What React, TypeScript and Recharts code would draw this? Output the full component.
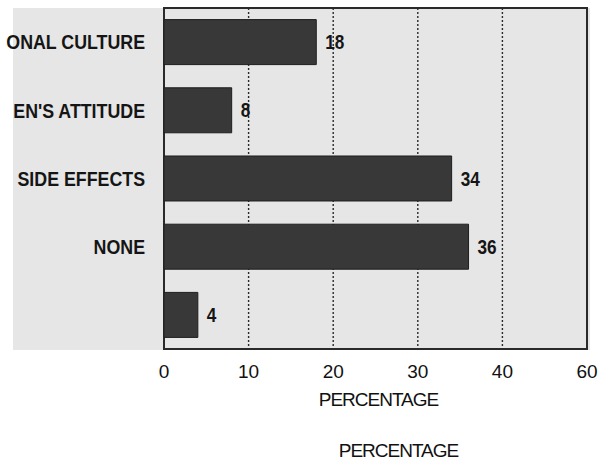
import React from 'react';
import { BarChart, Bar, XAxis, YAxis, CartesianGrid, LabelList, Label, ReferenceArea } from 'recharts';

const categories = ["ONAL CULTURE", "EN'S ATTITUDE", "SIDE EFFECTS", "NONE", ""];
const percentages = [18, 8, 34, 36, 4];
const tickValues = [0, 10, 20, 30, 40, 50];
const tickLabels = ["0", "10", "20", "30", "40", "60"];
const axisTitle = "PERCENTAGE";

const data = categories.map((name, i) => ({ name, value: percentages[i] }));

const plainFont = "'Liberation Sans', Arial, sans-serif";
// the scan uses a condensed bold face, so squeeze Liberation Sans Bold horizontally
const squeeze = 0.89;

const CategoryTick = (props: any) => {
  const { x, y, payload } = props;
  return (
    <text
      transform={`translate(${x},${y}) scale(${squeeze},1)`}
      textAnchor="end"
      dy="0.36em"
      fill="#151515"
      fontSize={20}
      fontWeight={700}
      fontFamily={plainFont}
    >
      {payload.value}
    </text>
  );
};

const ValueLabel = (props: any) => {
  const { x, y, width, height, value } = props;
  const tx = Number(x) + Number(width) + 9;
  const ty = Number(y) + Number(height) / 2;
  return (
    <text
      transform={`translate(${tx},${ty}) scale(0.86,1)`}
      textAnchor="start"
      dy="0.36em"
      fill="#151515"
      fontSize={20}
      fontWeight={700}
      fontFamily={plainFont}
    >
      {value}
    </text>
  );
};

export default function App() {
  return (
    <div style={{ position: 'absolute', left: 0, top: 0, width: 599, height: 464, background: '#fff', overflow: 'hidden' }}>
      {/* scanned page backdrop */}
      <div style={{ position: 'absolute', left: 13, top: 8, width: 577, height: 342, background: '#e6e6e6' }} />
      <div style={{ position: 'absolute', left: 0, top: 0 }}>
        <BarChart
          width={599}
          height={464}
          data={data}
          layout="vertical"
          margin={{ top: 8, right: 12, left: 0, bottom: 85 }}
          barCategoryGap="17%"
        >
          <CartesianGrid horizontal={false} vertical strokeDasharray="2 2" stroke="#2a2a2a" strokeWidth={1.4} />
          <ReferenceArea x1={0} x2={50} fill="none" stroke="#2a2a2a" strokeWidth={2} ifOverflow="visible" />
          <XAxis
            type="number"
            domain={[0, 50]}
            ticks={tickValues}
            tickFormatter={(v: number, i: number) => tickLabels[i] ?? String(v)}
            axisLine={false}
            tickLine={false}
            tickMargin={10}
            height={30}
            tick={{ fill: '#111', fontSize: 19, fontFamily: plainFont }}
          >
            <Label value={axisTitle} position="bottom" offset={14} dx={3} style={{ fill: '#111', fontSize: 19, fontFamily: plainFont, letterSpacing: -1 }} />
            <Label value={axisTitle} position="bottom" offset={65} dx={23} style={{ fill: '#111', fontSize: 19, fontFamily: plainFont, letterSpacing: -1 }} />
          </XAxis>
          <YAxis
            type="category"
            dataKey="name"
            width={164}
            axisLine={false}
            tickLine={false}
            tickMargin={13}
            interval={0}
            tick={<CategoryTick />}
          />
          <Bar dataKey="value" fill="#383838" stroke="#1e1e1e" strokeWidth={1} isAnimationActive={false}>
            <LabelList dataKey="value" content={<ValueLabel />} />
          </Bar>
        </BarChart>
      </div>
    </div>
  );
}
